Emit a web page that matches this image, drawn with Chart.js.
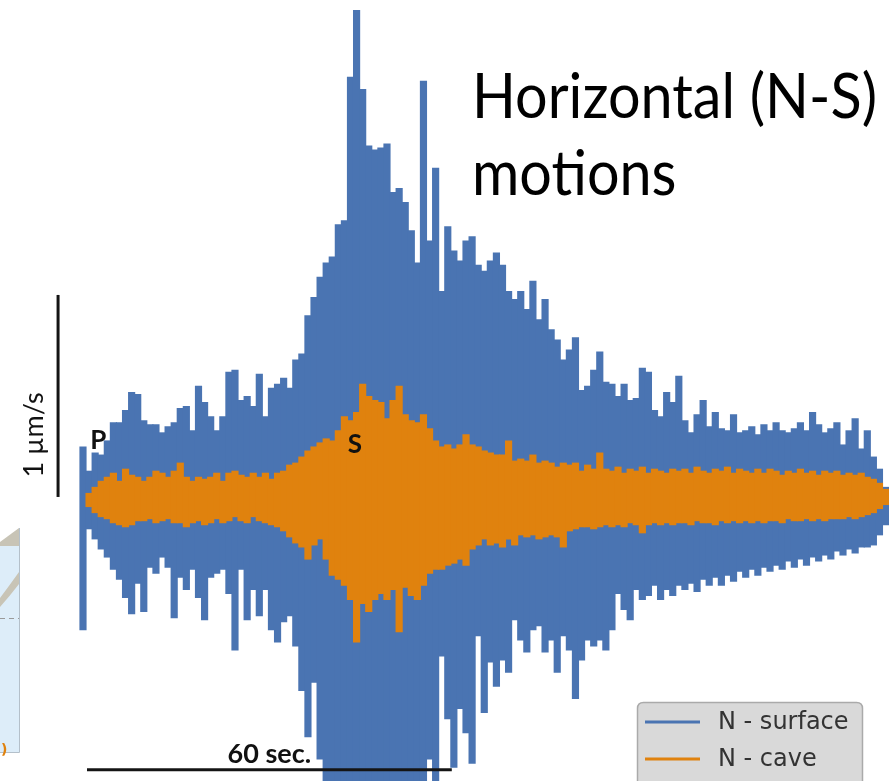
<!DOCTYPE html>
<html>
<head>
<meta charset="utf-8">
<script src="https://cdn.jsdelivr.net/npm/chart.js@4.4.1/dist/chart.umd.min.js"></script>
<style>
html,body{margin:0;padding:0;background:#fff;overflow:hidden}
canvas{display:block}
</style>
</head>
<body>
<canvas id="c" width="889" height="781"></canvas>
<script>
// ---- Data (µm/s), one peak / trough pair per second of record ----
const seriesNames = ['N - surface', 'N - cave'];
const titleLines = ['Horizontal (N-S)', 'motions'];
const phaseLabels = ['P', 'S'];
const velocityBarLabel = '1 µm/s';
const timeBarLabel = '60 sec.';
const sampleStepSec = 1;
const velocityBarValue = 1;   // µm/s
const timeBarValue = 60;      // s

const surfaceTop = [
 0.25,0.13,0.22,0.21,0.28,0.37,0.37,0.43,0.52,0.51,
 0.38,0.36,0.36,0.32,0.35,0.37,0.44,0.45,0.33,0.55,
 0.47,0.40,0.33,0.40,0.62,0.63,0.48,0.50,0.45,0.61,
 0.40,0.54,0.56,0.59,0.54,0.68,0.71,0.90,0.99,1.09,
 1.16,1.19,1.35,1.37,2.08,2.41,2.02,1.74,1.72,1.73,
 1.75,1.51,1.53,1.46,1.32,1.16,2.06,1.27,1.63,1.02,
 1.34,1.22,1.17,1.27,1.29,1.15,1.12,1.17,1.21,1.15,
 1.02,0.98,1.02,0.93,1.07,0.88,0.98,0.83,0.78,0.68,
 0.73,0.79,0.53,0.55,0.63,0.72,0.57,0.56,0.50,0.56,
 0.48,0.49,0.64,0.62,0.43,0.40,0.52,0.47,0.60,0.38,
 0.32,0.41,0.48,0.35,0.42,0.34,0.33,0.41,0.32,0.33,
 0.35,0.31,0.36,0.33,0.37,0.33,0.32,0.34,0.37,0.33,
 0.42,0.36,0.32,0.34,0.37,0.26,0.33,0.39,0.24,0.33,
 0.20,0.14,0.05
];
const surfaceBottom = [
 -0.66,-0.16,-0.21,-0.26,-0.30,-0.36,-0.41,-0.50,-0.58,-0.43,
 -0.57,-0.35,-0.38,-0.30,-0.35,-0.60,-0.40,-0.46,-0.36,-0.50,
 -0.61,-0.40,-0.38,-0.36,-0.48,-0.76,-0.36,-0.61,-0.46,-0.59,
 -0.46,-0.66,-0.72,-0.62,-0.59,-0.74,-0.96,-1.19,-0.92,-1.30,
 -1.50,-1.55,-1.70,-1.52,-1.80,-1.60,-1.75,-1.90,-1.65,-1.80,
 -1.55,-1.70,-1.85,-1.60,-1.72,-1.50,-1.62,-1.30,-1.45,-0.79,
 -1.10,-1.34,-1.05,-1.17,-1.32,-0.69,-1.07,-0.82,-0.94,-0.81,
 -0.87,-0.61,-0.71,-0.77,-0.66,-0.64,-0.77,-0.71,-0.87,-0.69,
 -0.76,-1.00,-0.81,-0.71,-0.74,-0.71,-0.76,-0.66,-0.48,-0.56,
 -0.61,-0.46,-0.51,-0.49,-0.44,-0.51,-0.46,-0.49,-0.44,-0.46,
 -0.43,-0.47,-0.41,-0.44,-0.40,-0.44,-0.39,-0.42,-0.37,-0.40,
 -0.36,-0.39,-0.35,-0.37,-0.34,-0.36,-0.32,-0.35,-0.31,-0.34,
 -0.30,-0.32,-0.29,-0.31,-0.27,-0.29,-0.26,-0.28,-0.25,-0.25,
 -0.24,-0.19,-0.14
];
const caveTop = [
 0.00,0.02,0.05,0.08,0.10,0.12,0.08,0.14,0.11,0.10,
 0.08,0.10,0.13,0.12,0.10,0.13,0.17,0.10,0.08,0.10,
 0.09,0.10,0.12,0.08,0.12,0.13,0.11,0.10,0.12,0.10,
 0.12,0.09,0.12,0.13,0.16,0.17,0.20,0.23,0.25,0.27,
 0.29,0.28,0.33,0.40,0.38,0.42,0.56,0.50,0.48,0.47,
 0.39,0.48,0.55,0.41,0.38,0.37,0.41,0.34,0.28,0.25,
 0.26,0.24,0.26,0.31,0.26,0.25,0.23,0.22,0.21,0.21,
 0.28,0.18,0.19,0.18,0.21,0.17,0.18,0.17,0.15,0.17,
 0.16,0.17,0.13,0.16,0.14,0.22,0.14,0.13,0.15,0.12,
 0.14,0.13,0.15,0.12,0.14,0.13,0.12,0.14,0.13,0.14,
 0.12,0.15,0.13,0.12,0.14,0.13,0.15,0.12,0.14,0.13,
 0.12,0.14,0.12,0.14,0.13,0.11,0.13,0.12,0.14,0.12,
 0.13,0.11,0.13,0.12,0.13,0.11,0.12,0.11,0.12,0.10,
 0.09,0.07,0.04
];
const caveBottom = [
 0.00,-0.05,-0.08,-0.10,-0.11,-0.13,-0.14,-0.15,-0.14,-0.12,
 -0.12,-0.11,-0.13,-0.12,-0.11,-0.13,-0.13,-0.15,-0.13,-0.12,
 -0.14,-0.13,-0.11,-0.13,-0.12,-0.10,-0.12,-0.13,-0.10,-0.12,
 -0.13,-0.14,-0.15,-0.17,-0.20,-0.23,-0.25,-0.31,-0.24,-0.21,
 -0.31,-0.39,-0.41,-0.44,-0.51,-0.72,-0.53,-0.57,-0.51,-0.48,
 -0.51,-0.46,-0.67,-0.45,-0.49,-0.51,-0.44,-0.38,-0.36,-0.36,
 -0.34,-0.33,-0.31,-0.34,-0.26,-0.24,-0.21,-0.24,-0.23,-0.25,
 -0.21,-0.24,-0.19,-0.20,-0.19,-0.21,-0.20,-0.19,-0.20,-0.25,
 -0.17,-0.16,-0.15,-0.15,-0.16,-0.15,-0.14,-0.15,-0.14,-0.15,
 -0.13,-0.14,-0.18,-0.14,-0.13,-0.14,-0.13,-0.14,-0.13,-0.13,
 -0.14,-0.12,-0.13,-0.13,-0.14,-0.12,-0.13,-0.12,-0.13,-0.12,
 -0.13,-0.12,-0.13,-0.12,-0.12,-0.13,-0.11,-0.12,-0.12,-0.11,
 -0.12,-0.11,-0.12,-0.11,-0.11,-0.11,-0.10,-0.11,-0.10,-0.09,
 -0.08,-0.06,-0.04
];

// ---- styles ----
const BLUE = '#4a74b2';
const ORANGE = '#e0820e';

function ranges(top, bottom) {
  return top.map((v, i) => ({x: i * sampleStepSec, y: [bottom[i], v]}));
}

function roundRect(ctx, x, y, w, h, r) {
  ctx.beginPath();
  ctx.moveTo(x + r, y);
  ctx.lineTo(x + w - r, y);
  ctx.quadraticCurveTo(x + w, y, x + w, y + r);
  ctx.lineTo(x + w, y + h - r);
  ctx.quadraticCurveTo(x + w, y + h, x + w - r, y + h);
  ctx.lineTo(x + r, y + h);
  ctx.quadraticCurveTo(x, y + h, x, y + h - r);
  ctx.lineTo(x, y + r);
  ctx.quadraticCurveTo(x, y, x + r, y);
  ctx.closePath();
}

const decor = {
  id: 'decor',
  beforeDatasetsDraw(chart) {
    const ctx = chart.ctx;
    ctx.save();
    // fragment of a neighbouring panel at the left edge
    ctx.fillStyle = '#ddedf9';
    ctx.fillRect(0, 544, 19, 208);
    ctx.fillStyle = '#c8c4b6';
    ctx.beginPath();
    ctx.moveTo(0, 542); ctx.lineTo(19, 528); ctx.lineTo(19, 546); ctx.lineTo(0, 546);
    ctx.closePath(); ctx.fill();
    ctx.beginPath();
    ctx.moveTo(0, 598); ctx.quadraticCurveTo(9, 586, 19, 572);
    ctx.lineTo(19, 584); ctx.quadraticCurveTo(9, 597, 0, 607);
    ctx.closePath(); ctx.fill();
    ctx.strokeStyle = '#9a9a9a'; ctx.lineWidth = 1; ctx.setLineDash([5, 4]);
    ctx.beginPath(); ctx.moveTo(0, 618.5); ctx.lineTo(19, 618.5); ctx.stroke();
    ctx.setLineDash([]);
    ctx.strokeStyle = '#b4c0ca';
    ctx.beginPath(); ctx.moveTo(19.5, 528); ctx.lineTo(19.5, 752.5); ctx.lineTo(0, 752.5); ctx.stroke();
    ctx.fillStyle = ORANGE;
    ctx.font = 'bold 14px "DejaVu Sans"';
    ctx.textBaseline = 'alphabetic';
    ctx.fillText(')', 1, 754);
    ctx.restore();
  },
  afterDatasetsDraw(chart) {
    const ctx = chart.ctx;
    const xs = chart.scales.x, ys = chart.scales.y;
    ctx.save();
    // velocity scale bar
    const vx = xs.getPixelForValue(-4.1);
    const v0 = ys.getPixelForValue(0), v1 = ys.getPixelForValue(velocityBarValue);
    ctx.strokeStyle = '#141414'; ctx.lineWidth = 3; ctx.lineCap = 'butt';
    ctx.beginPath(); ctx.moveTo(vx, v0); ctx.lineTo(vx, v1); ctx.stroke();
    ctx.save();
    ctx.translate(vx - 24, v0 - 62);
    ctx.rotate(-Math.PI / 2);
    ctx.fillStyle = '#111';
    ctx.font = '27px Lato';
    ctx.textAlign = 'center'; ctx.textBaseline = 'middle';
    ctx.fillText(velocityBarLabel, 0, 0);
    ctx.restore();
    // time scale bar
    const ty = ys.getPixelForValue(-1.35);
    const t0 = xs.getPixelForValue(0.66), t1 = xs.getPixelForValue(0.66 + timeBarValue);
    ctx.beginPath(); ctx.moveTo(t0, ty); ctx.lineTo(t1, ty); ctx.stroke();
    ctx.fillStyle = '#111';
    ctx.font = 'bold 27px Lato';
    ctx.textAlign = 'center'; ctx.textBaseline = 'alphabetic';
    ctx.fillText(timeBarLabel, (t0 + t1) / 2, ty - 7);
    // phase labels
    ctx.font = 'bold 26px Lato';
    ctx.textBaseline = 'middle';
    ctx.fillText(phaseLabels[0], xs.getPixelForValue(2.5), ys.getPixelForValue(0.28));
    ctx.fillText(phaseLabels[1], xs.getPixelForValue(44.7), ys.getPixelForValue(0.26));
    // title
    ctx.fillStyle = '#000';
    ctx.font = '62px Lato';
    ctx.textAlign = 'left'; ctx.textBaseline = 'alphabetic';
    const w = ctx.measureText(titleLines[0]).width;
    const sx = 405 / w;
    ctx.save();
    ctx.translate(472, 0); ctx.scale(sx, 1);
    ctx.fillText(titleLines[0], 0, 118);
    ctx.fillText(titleLines[1], 0, 195);
    ctx.restore();
    // legend
    roundRect(ctx, 637.5, 702.5, 225, 110, 6);
    ctx.fillStyle = '#d9d9d9'; ctx.fill();
    ctx.strokeStyle = '#aaaaaa'; ctx.lineWidth = 1.5; ctx.stroke();
    const colors = [BLUE, ORANGE];
    const rows = [722, 759];
    ctx.font = '24px "DejaVu Sans"';
    ctx.textBaseline = 'middle';
    for (let i = 0; i < 2; i++) {
      ctx.strokeStyle = colors[i]; ctx.lineWidth = 3;
      ctx.beginPath(); ctx.moveTo(645, rows[i]); ctx.lineTo(700, rows[i]); ctx.stroke();
      ctx.fillStyle = '#333';
      ctx.fillText(seriesNames[i], 718, rows[i] + 1);
    }
    ctx.restore();
  }
};

new Chart(document.getElementById('c'), {
  type: 'bar',
  data: {
    datasets: [
      {label: seriesNames[0], data: ranges(surfaceTop, surfaceBottom), backgroundColor: BLUE,
       borderWidth: 0, inflateAmount: 0, order: 2, grouped: false, barPercentage: 1.18, categoryPercentage: 1},
      {label: seriesNames[1], data: ranges(caveTop, caveBottom), backgroundColor: ORANGE,
       borderWidth: 0, inflateAmount: 0, order: 1, grouped: false, barPercentage: 1.18, categoryPercentage: 1}
    ]
  },
  options: {
    responsive: false,
    animation: false,
    devicePixelRatio: 1,
    layout: {padding: 0},
    plugins: {legend: {display: false}, tooltip: {enabled: false}, title: {display: false}},
    scales: {
      x: {type: 'linear', offset: false, min: -13.65, max: 132.57, display: false, grid: {offset: false}},
      y: {type: 'linear', min: -1.406, max: 2.46, display: false}
    }
  },
  plugins: [decor]
});
</script>
</body>
</html>
